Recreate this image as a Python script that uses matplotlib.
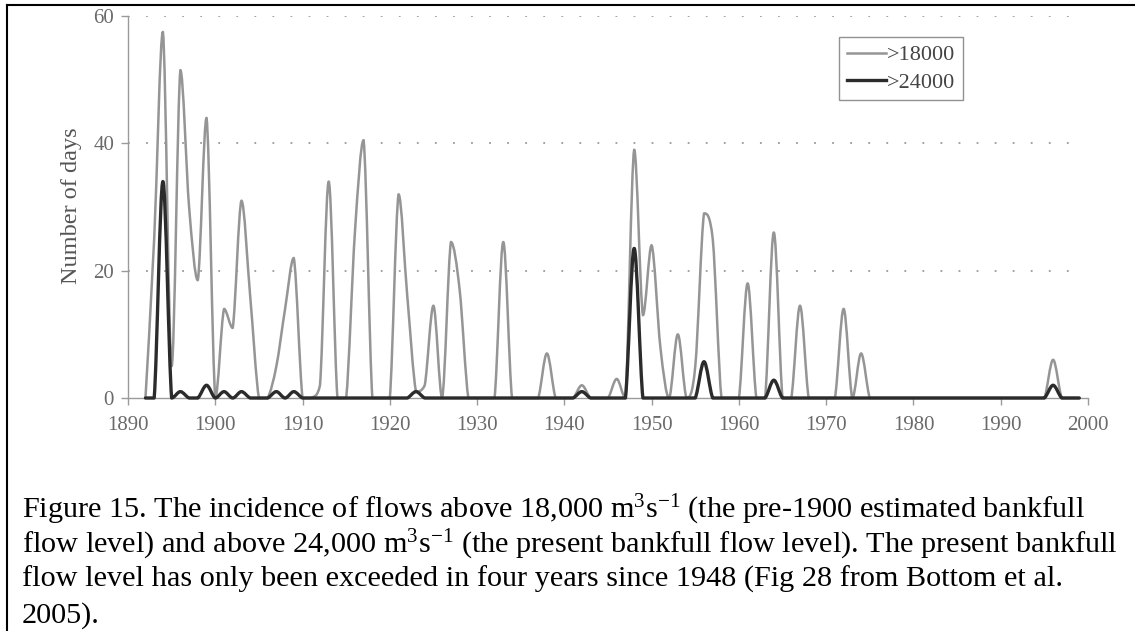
import numpy as np
import matplotlib
matplotlib.use("Agg")
from matplotlib import pyplot as plt
from matplotlib.path import Path
from matplotlib.patches import PathPatch
from matplotlib.lines import Line2D

plt.rcParams['font.family'] = ['Liberation Serif', 'DejaVu Serif']
plt.rcParams['mathtext.fontset'] = 'custom'
plt.rcParams['mathtext.rm'] = 'Liberation Serif'
plt.rcParams['mathtext.it'] = 'Liberation Serif:italic'

# years 1892-1999, number of days per year
years = np.arange(1892, 2000)

days_18000 = [
    0, 25, 57.5, 5, 51.5, 30, 18.5, 44, 0,          # 1892-1900
    14, 11, 31, 16, 0, 0, 5, 14, 22, 0,             # 1901-1910
    0, 2, 34, 0, 0, 26, 40.5, 0, 0, 0,              # 1911-1920
    32, 16, 1, 2, 14.5, 0, 24.5, 17, 0, 0,          # 1921-1930
    0, 0, 24.5, 0, 0, 0, 0, 7, 0, 0,                # 1931-1940
    0, 2, 0, 0, 0, 3, 0, 39, 13, 24,                # 1941-1950
    8, 0, 10, 0, 5, 29, 25, 0, 0, 0,                # 1951-1960
    18, 0, 0, 26, 0, 0, 14.5, 0, 0, 0,              # 1961-1970
    0, 14, 0, 7, 0, 0, 0, 0, 0, 0,                  # 1971-1980
    0, 0, 0, 0, 0, 0, 0, 0, 0, 0,                   # 1981-1990
    0, 0, 0, 0, 0, 6, 0, 0, 0,                      # 1991-1999
]

days_24000 = [
    0, 0, 34, 0, 1, 0, 0, 2, 0,                     # 1892-1900
    1, 0, 1, 0, 0, 0, 1, 0, 1, 0,                   # 1901-1910
    0, 0, 0, 0, 0, 0, 0, 0, 0, 0,                   # 1911-1920
    0, 0, 1, 0, 0, 0, 0, 0, 0, 0,                   # 1921-1930
    0, 0, 0, 0, 0, 0, 0, 0, 0, 0,                   # 1931-1940
    0, 1, 0, 0, 0, 0, 0, 23.5, 0, 0,                # 1941-1950
    0, 0, 0, 0, 0, 5.7, 0, 0, 0, 0,                 # 1951-1960
    0, 0, 0, 2.8, 0, 0, 0, 0, 0, 0,                 # 1961-1970
    0, 0, 0, 0, 0, 0, 0, 0, 0, 0,                   # 1971-1980
    0, 0, 0, 0, 0, 0, 0, 0, 0, 0,                   # 1981-1990
    0, 0, 0, 0, 0, 2, 0, 0, 0,                      # 1991-1999
]

series_labels = ['>18000', '>24000']
series_colors = ['#959595', '#2b2b2b']
series_widths = [1.8, 2.4]

x_ticks = np.arange(1890, 2001, 10)
y_ticks = [0, 20, 40, 60]

caption = [
    r'Figure 15. The incidence of flows above 18,000 $\mathrm{m}^{3}\mathrm{s}^{-1}$ (the pre-1900 estimated bankfull',
    r'flow level) and above 24,000 $\mathrm{m}^{3}\mathrm{s}^{-1}$ (the present bankfull flow level). The present bankfull',
    r'flow level has only been exceeded in four years since 1948 (Fig 28 from Bottom et al.',
    r'2005).',
]


def smooth_path(xs, ys):
    # smoothed line: cubic bezier through every point, control points kept
    # inside each segment's y range so the curve never dips below zero
    pts = np.column_stack([xs, ys]).astype(float)
    ext = np.vstack([pts[0], pts, pts[-1]])
    verts = [pts[0]]
    codes = [Path.MOVETO]
    for i in range(1, len(ext) - 2):
        p0, p1, p2, p3 = ext[i - 1], ext[i], ext[i + 1], ext[i + 2]
        c1 = p1 + (p2 - p0) / 6
        c2 = p2 - (p3 - p1) / 6
        lo, hi = min(p1[1], p2[1]), max(p1[1], p2[1])
        c1[1] = np.clip(c1[1], lo, hi)
        c2[1] = np.clip(c2[1], lo, hi)
        verts += [c1, c2, p2]
        codes += [Path.CURVE4] * 3
    return Path(verts, codes)


W, H = 1135, 631
fig = plt.figure(figsize=(W / 100, H / 100), dpi=100)
ax = fig.add_axes([128 / W, 1 - 398 / H, 960 / W, 382 / H])

ax.set_xlim(1890, 2000)
ax.set_ylim(0, 60)

ax.hlines(y_ticks[1:], 1890, 1999, colors='#9a9a9a', linewidth=1.3,
          linestyles=(0, (1, 9)), zorder=1)

for vals, col, lw in zip([days_18000, days_24000], series_colors, series_widths):
    p = PathPatch(smooth_path(years, vals), facecolor='none', edgecolor=col,
                  linewidth=lw, zorder=3, capstyle='round', joinstyle='round',
                  clip_on=False)
    ax.add_patch(p)

for s in ['top', 'right']:
    ax.spines[s].set_visible(False)
for s in ['left', 'bottom']:
    ax.spines[s].set_color('#9a9a9a')
    ax.spines[s].set_linewidth(1.0)

ax.set_xticks(x_ticks)
ax.set_yticks(y_ticks)
ax.tick_params(axis='both', direction='out', length=5, width=1, color='#9a9a9a',
               labelcolor='#6a6a6a', labelsize=15)
ax.tick_params(axis='x', pad=8)
ax.tick_params(axis='y', pad=5)

fig.text(72 / W, 1 - 206 / H, 'Number of days', rotation=90, ha='center',
         va='center', fontsize=17.5, color='#555555')

handles = [Line2D([], [], color=c, linewidth=w) for c, w in zip(series_colors, series_widths)]
leg = ax.legend(handles, series_labels, loc='upper left',
                bbox_to_anchor=(839 / W, 1 - 37 / H), bbox_transform=fig.transFigure,
                fontsize=16, frameon=True, fancybox=False, handlelength=1.75,
                handletextpad=0.05, labelspacing=0.3, borderpad=0.35, borderaxespad=0)
leg.get_frame().set_edgecolor('#777777')
leg.get_frame().set_linewidth(1.0)
for t in leg.get_texts():
    t.set_color('#444444')

# frame round the figure (top and left edges)
fig.add_artist(Line2D([7 / W, 1], [1 - 5 / H, 1 - 5 / H], color='black', linewidth=1.5))
fig.add_artist(Line2D([7 / W, 7 / W], [0, 1 - 5 / H], color='black', linewidth=1.5))

baselines = [518, 553, 587, 623]
for line, b in zip(caption, baselines):
    fig.text(22 / W, 1 - b / H, line, ha='left', va='baseline', fontsize=21.8, color='black')

fig.savefig('out.png', dpi=100)
